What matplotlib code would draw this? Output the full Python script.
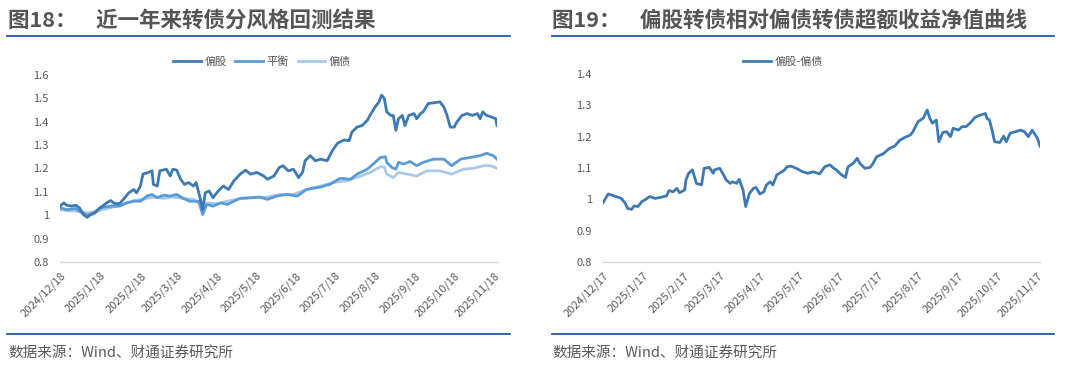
import numpy as np
import pandas as pd
import matplotlib
matplotlib.use("Agg")
from matplotlib import pyplot as plt
from matplotlib.ticker import FuncFormatter

plt.rcParams['font.family'] = ['Noto Sans CJK SC', 'DejaVu Sans']

# 图18 数据（距 2024/12/18 的天数, 净值）
start_l = pd.Timestamp("2024-12-18")
days_eq = [0, 3, 5, 9, 12, 15, 18, 21, 23, 27, 31, 36, 39, 42, 46, 50, 53, 57, 59, 62,
           64, 68, 71, 72, 75, 77, 82, 85, 87, 90, 93, 96, 99, 103, 105, 108, 110, 112, 115, 118,
           122, 126, 130, 134, 139, 143, 147, 152, 157, 160, 165, 169, 172, 176, 180, 184, 187, 189, 193, 197,
           201, 206, 210, 214, 219, 223, 225, 229, 233, 237, 239, 243, 246, 248, 250, 252, 255, 257, 259, 261,
           264, 266, 269, 273, 275, 278, 280, 284, 288, 293, 296, 298, 301, 304, 306, 310, 314, 318, 322, 324,
           326, 329, 333, 336, 337]
equity = [1.039, 1.053, 1.043, 1.039, 1.043, 1.032, 1.003, 0.991, 1.0, 1.01, 1.032, 1.053, 1.063, 1.05, 1.05, 1.075, 1.096, 1.11, 1.096, 1.125,
          1.176, 1.183, 1.19, 1.132, 1.125, 1.19, 1.197, 1.168, 1.197, 1.193, 1.154, 1.132, 1.14, 1.125, 1.14, 1.075, 1.024, 1.096, 1.104, 1.075,
          1.104, 1.125, 1.11, 1.147, 1.176, 1.193, 1.176, 1.183, 1.168, 1.154, 1.168, 1.204, 1.212, 1.19, 1.197, 1.161, 1.183, 1.233, 1.255, 1.233,
          1.24, 1.233, 1.276, 1.308, 1.322, 1.319, 1.355, 1.377, 1.384, 1.406, 1.427, 1.463, 1.485, 1.514, 1.5, 1.442, 1.427, 1.427, 1.363, 1.413,
          1.427, 1.384, 1.427, 1.435, 1.413, 1.435, 1.442, 1.478, 1.481, 1.485, 1.463, 1.435, 1.377, 1.377, 1.399, 1.427, 1.435, 1.427, 1.435, 1.413,
          1.442, 1.427, 1.42, 1.413, 1.384]

days_bal = [0, 5, 12, 17, 21, 26, 31, 39, 46, 51, 57, 62, 67, 71, 75, 80, 85, 90, 95, 100,
            107, 110, 113, 118, 124, 129, 134, 139, 147, 154, 160, 167, 175, 183, 190, 201, 208, 216, 224, 229,
            237, 243, 247, 251, 252, 256, 259, 261, 265, 270, 275, 280, 288, 296, 302, 309, 316, 324, 329, 334, 337]
balanced = [1.032, 1.024, 1.029, 1.01, 1.0, 1.01, 1.032, 1.039, 1.039, 1.053, 1.06, 1.06, 1.082, 1.089, 1.075, 1.086, 1.082, 1.089, 1.072, 1.06,
            1.06, 1.003, 1.046, 1.039, 1.053, 1.046, 1.06, 1.072, 1.075, 1.078, 1.068, 1.082, 1.089, 1.082, 1.11, 1.121, 1.132, 1.158, 1.154, 1.176,
            1.197, 1.226, 1.247, 1.25, 1.226, 1.204, 1.197, 1.226, 1.219, 1.23, 1.212, 1.226, 1.24, 1.24, 1.212, 1.24, 1.247, 1.255, 1.265, 1.255, 1.24]

days_bond = [0, 5, 15, 21, 28, 39, 49, 57, 64, 72, 80, 87, 95, 103, 109, 113, 121, 129, 139, 149,
             160, 170, 180, 190, 201, 211, 221, 232, 239, 247, 250, 252, 257, 261, 268, 275, 283, 293, 302, 311,
             319, 327, 332, 337]
bond = [1.024, 1.02, 1.017, 1.01, 1.017, 1.032, 1.046, 1.063, 1.068, 1.078, 1.072, 1.078, 1.072, 1.068, 1.046, 1.053, 1.049, 1.06, 1.072, 1.075,
        1.078, 1.089, 1.089, 1.11, 1.125, 1.14, 1.147, 1.168, 1.183, 1.207, 1.207, 1.176, 1.161, 1.183, 1.176, 1.168, 1.19, 1.19, 1.176, 1.197,
        1.201, 1.212, 1.212, 1.201]

# 图19 数据（距 2024/12/17 的天数, 偏股-偏债）
start_r = pd.Timestamp("2024-12-17")
days_ex = [0, 4, 10, 14, 17, 19, 22, 24, 27, 30, 33, 36, 40, 44, 49, 51, 54, 57, 59, 63,
           64, 66, 69, 72, 76, 78, 82, 85, 86, 90, 93, 95, 98, 100, 103, 105, 108, 110, 113, 116,
           118, 121, 124, 126, 129, 131, 134, 138, 140, 142, 145, 149, 154, 158, 162, 167, 171, 175, 178, 180,
           184, 187, 189, 193, 196, 198, 202, 206, 208, 211, 216, 221, 225, 229, 233, 237, 239, 243, 247, 250,
           252, 254, 257, 259, 262, 265, 268, 270, 274, 277, 280, 283, 287, 291, 295, 296, 298, 300, 302, 306,
           309, 311, 314, 318, 322, 325, 328, 331, 335, 337]
excess = [0.989, 1.017, 1.009, 1.003, 0.989, 0.971, 0.968, 0.979, 0.977, 0.993, 1.0, 1.009, 1.003, 1.006, 1.011, 1.028, 1.024, 1.035, 1.021, 1.03,
          1.062, 1.083, 1.094, 1.051, 1.046, 1.099, 1.102, 1.083, 1.094, 1.099, 1.078, 1.062, 1.051, 1.056, 1.051, 1.064, 1.03, 0.977, 1.019, 1.035,
          1.038, 1.017, 1.024, 1.046, 1.056, 1.046, 1.078, 1.088, 1.094, 1.104, 1.106, 1.099, 1.088, 1.083, 1.088, 1.081, 1.104, 1.11, 1.099, 1.094,
          1.078, 1.07, 1.104, 1.115, 1.131, 1.115, 1.099, 1.102, 1.113, 1.136, 1.145, 1.163, 1.17, 1.189, 1.198, 1.205, 1.216, 1.248, 1.259, 1.285,
          1.259, 1.243, 1.253, 1.184, 1.213, 1.216, 1.2, 1.227, 1.221, 1.232, 1.232, 1.243, 1.262, 1.269, 1.274, 1.259, 1.253, 1.221, 1.184, 1.181,
          1.202, 1.184, 1.211, 1.216, 1.221, 1.216, 1.2, 1.221, 1.195, 1.17]

ticks_l = ["2024-12-18", "2025-01-18", "2025-02-18", "2025-03-18", "2025-04-18", "2025-05-18",
           "2025-06-18", "2025-07-18", "2025-08-18", "2025-09-18", "2025-10-18", "2025-11-18"]
ticks_r = ["2024-12-17", "2025-01-17", "2025-02-17", "2025-03-17", "2025-04-17", "2025-05-17",
           "2025-06-17", "2025-07-17", "2025-08-17", "2025-09-17", "2025-10-17", "2025-11-17"]

c_eq = "#3d79b3"
c_bal = "#5a9ad6"
c_bond = "#a9c9eb"
grey = "#595959"
title_blue = "#1f5ca8"


def to_dates(start, days):
    return [start + pd.Timedelta(days=d) for d in days]


def fmt_y(v, pos):
    if abs(v - 1) < 1e-9:
        return "1"
    return "%.1f" % v


def style_ax(ax, start, ticks, ymin, ymax):
    for s in ["top", "right", "left"]:
        ax.spines[s].set_visible(False)
    ax.spines["bottom"].set_color("#d9d9d9")
    ax.spines["bottom"].set_linewidth(1.0)
    ax.set_ylim(ymin, ymax)
    ax.set_yticks(np.round(np.arange(ymin, ymax + 0.001, 0.1), 1))
    ax.yaxis.set_major_formatter(FuncFormatter(fmt_y))
    ax.set_xlim(start, start + pd.Timedelta(days=337))
    tk = [pd.Timestamp(t) for t in ticks]
    ax.set_xticks(tk)
    ax.set_xticklabels([f"{t.year}/{t.month}/{t.day}" for t in tk], rotation=45, ha="right",
                       rotation_mode="anchor")
    ax.tick_params(axis="both", length=0, colors=grey, labelsize=8)
    ax.tick_params(axis="y", pad=8)
    ax.tick_params(axis="x", pad=6)


fig = plt.figure(figsize=(10.8, 3.79), dpi=100)

# 标题与分割线
fig.text(8 / 1080, 1 - 20 / 379, "图18：    近一年来转债分风格回测结果", fontsize=15.5, fontweight="bold",
         color="#555555", va="center", ha="left")
fig.text(552 / 1080, 1 - 20 / 379, "图19：    偏股转债相对偏债转债超额收益净值曲线", fontsize=15.5, fontweight="bold",
         color="#555555", va="center", ha="left")
for x0, x1 in [(7, 510), (552, 1054)]:
    for yy in [36, 334]:
        fig.add_artist(plt.Line2D([x0 / 1080, x1 / 1080], [1 - yy / 379, 1 - yy / 379],
                                  color=title_blue, lw=1.3))
fig.text(8 / 1080, 1 - 353 / 379, "数据来源：Wind、财通证券研究所", fontsize=10.5, color=grey, va="center")
fig.text(552 / 1080, 1 - 353 / 379, "数据来源：Wind、财通证券研究所", fontsize=10.5, color=grey, va="center")

# 图18
ax1 = fig.add_axes([60 / 1080, 1 - 262 / 379, 437 / 1080, 187 / 379])
ax1.plot(to_dates(start_l, days_bond), bond, color=c_bond, lw=2.0, label="偏债")
ax1.plot(to_dates(start_l, days_bal), balanced, color=c_bal, lw=2.0, label="平衡")
ax1.plot(to_dates(start_l, days_eq), equity, color=c_eq, lw=2.0, label="偏股")
style_ax(ax1, start_l, ticks_l, 0.8, 1.6)
h, l = ax1.get_legend_handles_labels()
ax1.legend(h[::-1], l[::-1], loc="center", bbox_to_anchor=(262 / 1080, 1 - 62 / 379),
           bbox_transform=fig.transFigure, ncol=3, frameon=False, fontsize=8, labelcolor=grey,
           handlelength=2.5, handletextpad=0.3, columnspacing=0.8)

# 图19
ax2 = fig.add_axes([603 / 1080, 1 - 262 / 379, 437 / 1080, 188 / 379])
ax2.plot(to_dates(start_r, days_ex), excess, color=c_eq, lw=2.0, label="偏股-偏债")
style_ax(ax2, start_r, ticks_r, 0.8, 1.4)
ax2.legend(loc="center", bbox_to_anchor=(783 / 1080, 1 - 62 / 379),
           bbox_transform=fig.transFigure, frameon=False, fontsize=8, labelcolor=grey,
           handlelength=2.5, handletextpad=0.3)

fig.savefig("out.png", dpi=100)
